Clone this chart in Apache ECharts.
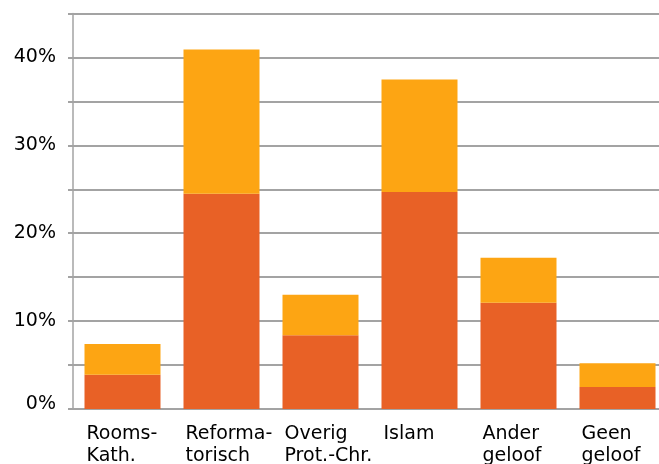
<!DOCTYPE html>
<html>
<head>
<meta charset="utf-8">
<script src="https://cdn.jsdelivr.net/npm/echarts@6/dist/echarts.min.js"></script>
<style>
html,body{margin:0;padding:0;background:#fff;overflow:hidden;}
#c{width:667px;height:464px;}
</style>
</head>
<body>
<div id="c"></div>
<script>
const categories = ['Rooms-\nKath.', 'Reforma-\ntorisch', 'Overig\nProt.-Chr.', 'Islam', 'Ander\ngeloof', 'Geen\ngeloof'];
const lowerValues = [3.9, 24.5, 8.4, 24.7, 12.1, 2.5];
const upperValues = [3.5, 16.4, 4.6, 12.8, 5.1, 2.7];
const yTickLabels = {0: '0%', 10: '10%', 20: '20%', 30: '30%', 40: '40%'};

const chart = echarts.init(document.getElementById('c'), null, {renderer: 'canvas'});
const fontFam = '"DejaVu Sans", sans-serif';
const grid = '#a3a3a3';
chart.setOption({
  animation: false,
  grid: {left: 73, right: 0, top: 13.5, bottom: 55, containLabel: false, outerBoundsMode: 'none'},
  xAxis: {
    type: 'category',
    data: categories,
    axisLine: {show: true, lineStyle: {color: grid, width: 2}},
    axisTick: {show: false},
    axisLabel: {
      interval: 0,
      margin: 14,
      color: '#000',
      fontFamily: fontFam,
      fontSize: 19,
      lineHeight: 22,
      formatter: function (v) {
        return v.split('\n').map(s => '{a|' + s + '}').join('\n');
      },
      rich: {a: {width: 72, align: 'left', fontFamily: fontFam, fontSize: 19, lineHeight: 22, color: '#000'}}
    }
  },
  yAxis: {
    type: 'value',
    min: 0,
    max: 45,
    interval: 5,
    axisLine: {show: true, lineStyle: {color: grid, width: 1.5}},
    axisTick: {show: true, length: 5, lineStyle: {color: grid, width: 2}},
    splitLine: {show: true, lineStyle: {color: grid, width: 2}},
    axisLabel: {
      margin: 17,
      color: '#000',
      fontFamily: fontFam,
      fontSize: 19,
      formatter: function (v) {
        const t = yTickLabels[v];
        if (!t) return '';
        return v === 0 ? '{z|' + t + '}' : t;
      },
      rich: {z: {fontFamily: fontFam, fontSize: 19, color: '#000', padding: [0, 0, 10, 0]}}
    }
  },
  series: [
    {
      type: 'bar', stack: 'a', data: lowerValues, barWidth: 76,
      itemStyle: {color: '#E86126'}
    },
    {
      type: 'bar', stack: 'a', data: upperValues, barWidth: 76,
      itemStyle: {color: '#FDA513'}
    }
  ]
});
</script>
</body>
</html>
